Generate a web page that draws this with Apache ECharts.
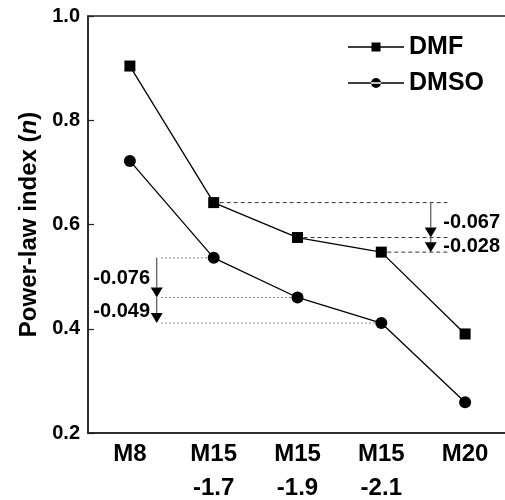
<!DOCTYPE html>
<html>
<head>
<meta charset="utf-8">
<script src="https://cdn.jsdelivr.net/npm/echarts@6/dist/echarts.min.js"></script>
<style>
  html, body { margin: 0; padding: 0; background: #fff; }
  #chart { width: 505px; height: 500px; }
</style>
</head>
<body>
<div id="chart"></div>
<script>
// Membrane samples on the x axis
const categories = ['M8', 'M15\n-1.7', 'M15\n-1.9', 'M15\n-2.1', 'M20'];
// Power-law index n for each solvent
const dmfValues = [0.904, 0.642, 0.575, 0.547, 0.390];
const dmsoValues = [0.722, 0.536, 0.460, 0.411, 0.259];
// Value axis ticks
const yMin = 0.2;
const yMax = 1.0;
const yStep = 0.2;
// Steps that get a drop annotation (indices into the series)
const stepIdx = [1, 2, 3];

const FONT = '"Liberation Sans", Arial, sans-serif';
const chart = echarts.init(document.getElementById('chart'));

// Legend glyphs: a line with the marker in its middle
const ICON_SQUARE = 'path://M0,4.2L56,4.2L56,5.8L0,5.8Z M23.5,0.5L32.5,0.5L32.5,9.5L23.5,9.5Z M0,0L0.01,0L0.01,10L0,10Z';
const ICON_CIRCLE = 'path://M0,4.2L56,4.2L56,5.8L0,5.8Z M23,5A5,5 0 1,0 33,5A5,5 0 1,0 23,5Z';

function arrow(x, y1, y2, color) {
  const head = 10, half = 6;
  return [
    { type: 'line', shape: { x1: x, y1: y1, x2: x, y2: y2 - head },
      style: { stroke: color, lineWidth: 1.2 } },
    { type: 'polygon', shape: { points: [[x - half, y2 - head], [x + half, y2 - head], [x, y2]] },
      style: { fill: '#000' } }
  ];
}

function diffText(vals, i) {
  return (vals[i + 1] - vals[i]).toFixed(3);
}

// Annotations drawn from the series values through the axis scales
function renderDrops(params, api) {
  const band = api.size([1, 0])[0];
  const kids = [];
  // DMF: dashed guides to the right, arrows and labels
  const xEnd = api.coord([3, 0])[0] + 0.79 * band;
  const xArrowR = api.coord([3, 0])[0] + 0.59 * band;
  stepIdx.forEach(function (i) {
    const p = api.coord([i, dmfValues[i]]);
    kids.push({ type: 'line', shape: { x1: p[0] + 6, y1: p[1], x2: xEnd, y2: p[1] },
      style: { stroke: '#333', lineWidth: 1, lineDash: [4, 3] } });
  });
  for (let k = 0; k < stepIdx.length - 1; k++) {
    const i = stepIdx[k];
    const ya = api.coord([i, dmfValues[i]])[1];
    const yb = api.coord([i + 1, dmfValues[i + 1]])[1];
    Array.prototype.push.apply(kids, arrow(xArrowR, ya, yb, '#555'));
    kids.push({ type: 'text', style: {
      x: api.coord([3, 0])[0] + 0.74 * band, y: (ya + yb) / 2 + 2,
      text: diffText(dmfValues, i), fill: '#000',
      font: 'bold 20px ' + FONT, textAlign: 'left', textVerticalAlign: 'middle' } });
  }
  // DMSO: dotted guides to the left, arrows and labels
  const xStart = api.coord([0, 0])[0] + 0.37 * band;
  const xArrowL = api.coord([0, 0])[0] + 0.32 * band;
  stepIdx.forEach(function (i) {
    const p = api.coord([i, dmsoValues[i]]);
    kids.push({ type: 'line', shape: { x1: xStart, y1: p[1], x2: p[0] - 6, y2: p[1] },
      style: { stroke: '#888', lineWidth: 1, lineDash: [2, 2] } });
  });
  for (let k = 0; k < stepIdx.length - 1; k++) {
    const i = stepIdx[k];
    const ya = api.coord([i, dmsoValues[i]])[1];
    const yb = api.coord([i + 1, dmsoValues[i + 1]])[1];
    Array.prototype.push.apply(kids, arrow(xArrowL, ya, yb, '#555'));
    kids.push({ type: 'text', style: {
      x: api.coord([0, 0])[0] + 0.24 * band, y: (ya + yb) / 2 + 1,
      text: diffText(dmsoValues, i), fill: '#000',
      font: 'bold 20px ' + FONT, textAlign: 'right', textVerticalAlign: 'middle' } });
  }
  return { type: 'group', children: kids };
}

chart.setOption({
  animation: false,
  textStyle: { fontFamily: FONT },
  grid: {
    left: 88, right: -2, top: 16, bottom: 67,
    outerBoundsMode: 'none', containLabel: false,
    show: true, borderColor: '#222', borderWidth: 1.5, backgroundColor: 'transparent'
  },
  legend: {
    orient: 'vertical', left: 343, top: 28, itemGap: 8,
    itemWidth: 56, itemHeight: 10,
    textStyle: { fontSize: 25, fontWeight: 'bold', color: '#000', fontFamily: FONT, lineHeight: 28 },
    data: [
      { name: 'DMF', icon: ICON_SQUARE },
      { name: 'DMSO', icon: ICON_CIRCLE }
    ]
  },
  xAxis: {
    type: 'category', data: categories, boundaryGap: true,
    axisLine: { lineStyle: { color: '#222', width: 1.5 } },
    axisTick: { inside: true, alignWithLabel: true, length: 6, lineStyle: { color: '#222', width: 1.2 } },
    axisLabel: { color: '#000', fontSize: 24, fontWeight: 'bold', lineHeight: 34, margin: 4, fontFamily: FONT },
    splitLine: { show: false }
  },
  yAxis: {
    type: 'value', min: yMin, max: yMax, interval: yStep,
    name: 'Power-law index ({i|n})', nameLocation: 'middle', nameGap: 42, nameRotate: 90,
    nameTextStyle: { fontSize: 24, fontWeight: 'bold', color: '#000', fontFamily: FONT,
      rich: { i: { fontSize: 24, fontWeight: 'bold', fontStyle: 'italic', color: '#000', fontFamily: FONT } } },
    axisLine: { show: true, lineStyle: { color: '#222', width: 1.5 } },
    axisTick: { show: true, inside: true, length: 6, lineStyle: { color: '#222', width: 1.2 } },
    axisLabel: { color: '#000', fontSize: 20, fontWeight: 'bold', margin: 8, fontFamily: FONT,
      formatter: function (v) { return v.toFixed(1); } },
    splitLine: { show: false }
  },
  series: [
    {
      name: 'DMF', type: 'line', data: dmfValues,
      symbol: 'rect', symbolSize: 11,
      lineStyle: { color: '#000', width: 1.3 },
      itemStyle: { color: '#000' }
    },
    {
      name: 'DMSO', type: 'line', data: dmsoValues,
      symbol: 'circle', symbolSize: 12,
      lineStyle: { color: '#000', width: 1.3 },
      itemStyle: { color: '#000' }
    },
    {
      type: 'custom', name: 'drops', data: [[0, 0]],
      renderItem: renderDrops, silent: true, z: 1
    }
  ]
});
</script>
</body>
</html>
